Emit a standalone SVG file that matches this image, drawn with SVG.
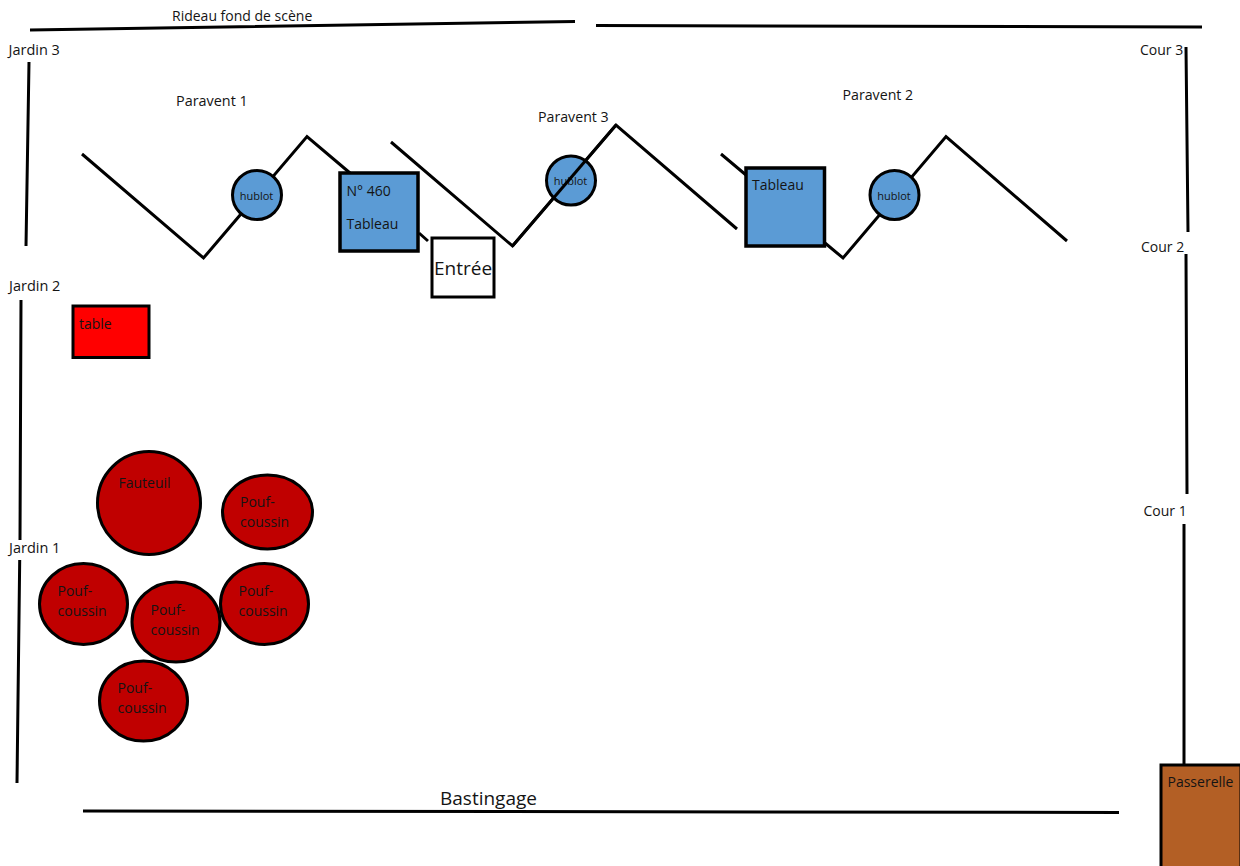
<svg xmlns="http://www.w3.org/2000/svg" width="1240" height="866" viewBox="0 0 1240 866">
<style>
.l{fill:none;stroke:#000;stroke-width:3}
.s{stroke:#000;stroke-width:3}
.t{stroke-width:3.500}
.b{fill:#5b9bd5}
.r{fill:#c00000}
text{font-family:"Open Sans","Noto Sans","Liberation Sans",sans-serif;font-size:14px;fill:#141414}
.h{font-size:11px}
.j{font-size:14.500px}
.e{font-size:19px}
</style>
<rect width="1240" height="866" fill="#fff"/>
<g id="walls">
<path class="l" d="M30 30L575 21.500M596 25.500L1202 27M29 62L26 246M21 300L20 540M19.700 560L17 783M1186 47L1188 232M1186 254L1187 494M1184 524L1184 765M83 811L1119 812.500"/>
</g>
<g id="screens">
<path class="l" d="M82 154L203.500 258L307 136.500L350 173M419 233L428 241M391 142L512.500 246L616 125L737 229M721 154L746 175M825 243L843 258L946 136.500L1067 241"/>
</g>
<g id="hublot1"><circle class="s b" cx="257" cy="195" r="24.500"/><text class="h" x="256.500" y="200" text-anchor="middle">hublot</text></g>
<g id="hublot3"><circle class="s b" cx="571" cy="180.500" r="24.500"/><text class="h" x="570.500" y="185" text-anchor="middle">hublot</text></g>
<g id="hublot2"><circle class="s b" cx="894.500" cy="195" r="24.500"/><text class="h" x="894" y="200" text-anchor="middle">hublot</text></g>
<path class="l" d="M512.500 246L616 125"/>
<g id="tableau460"><rect class="s t b" x="340" y="173" width="78" height="78"/><text x="346.500" y="196">N° 460</text><text x="346.500" y="229">Tableau</text></g>
<g id="tableau"><rect class="s t b" x="746" y="168" width="78.500" height="78"/><text x="752" y="190">Tableau</text></g>
<g id="entree"><rect class="s" fill="#fff" x="432" y="238" width="62" height="59"/><text class="e" x="434" y="275">Entrée</text></g>
<g id="table"><rect class="s" fill="#f00" x="73" y="306" width="76" height="51.500"/><text x="79" y="329">table</text></g>
<g id="fauteuil"><circle class="s r" cx="149" cy="503" r="51.500"/><text x="118.500" y="488">Fauteuil</text></g>
<g id="pouf1"><ellipse class="s r" cx="267.500" cy="512" rx="45" ry="37"/><text x="240" y="507">Pouf-</text><text x="240" y="527">coussin</text></g>
<g id="pouf2"><ellipse class="s r" cx="83.500" cy="604" rx="44" ry="40.500"/><text x="57.500" y="596">Pouf-</text><text x="57.500" y="616">coussin</text></g>
<g id="pouf3"><ellipse class="s r" cx="176" cy="622" rx="44" ry="40"/><text x="150.500" y="615">Pouf-</text><text x="150.500" y="635">coussin</text></g>
<g id="pouf4"><ellipse class="s r" cx="264.500" cy="604" rx="44" ry="40.500"/><text x="238.500" y="596">Pouf-</text><text x="238.500" y="616">coussin</text></g>
<g id="pouf5"><ellipse class="s r" cx="143.500" cy="701" rx="44" ry="40"/><text x="117.500" y="693">Pouf-</text><text x="117.500" y="713">coussin</text></g>
<g id="passerelle"><rect class="s" fill="#b35f25" x="1161" y="765" width="80" height="110"/><text x="1167.500" y="787">Passerelle</text></g>
<g id="labels">
<text x="172" y="21">Rideau fond de scène</text>
<text class="j" x="8.500" y="55">Jardin 3</text>
<text class="j" x="9" y="291">Jardin 2</text>
<text class="j" x="9" y="553">Jardin 1</text>
<text x="1140" y="55">Cour 3</text>
<text x="1141" y="252">Cour 2</text>
<text x="1143.500" y="516">Cour 1</text>
<text x="176" y="106" style="font-size:14.400px">Paravent 1</text>
<text x="538" y="122" style="font-size:14.200px">Paravent 3</text>
<text x="842.500" y="100" style="font-size:14.200px">Paravent 2</text>
<text class="e" x="440" y="805">Bastingage</text>
</g>
</svg>
